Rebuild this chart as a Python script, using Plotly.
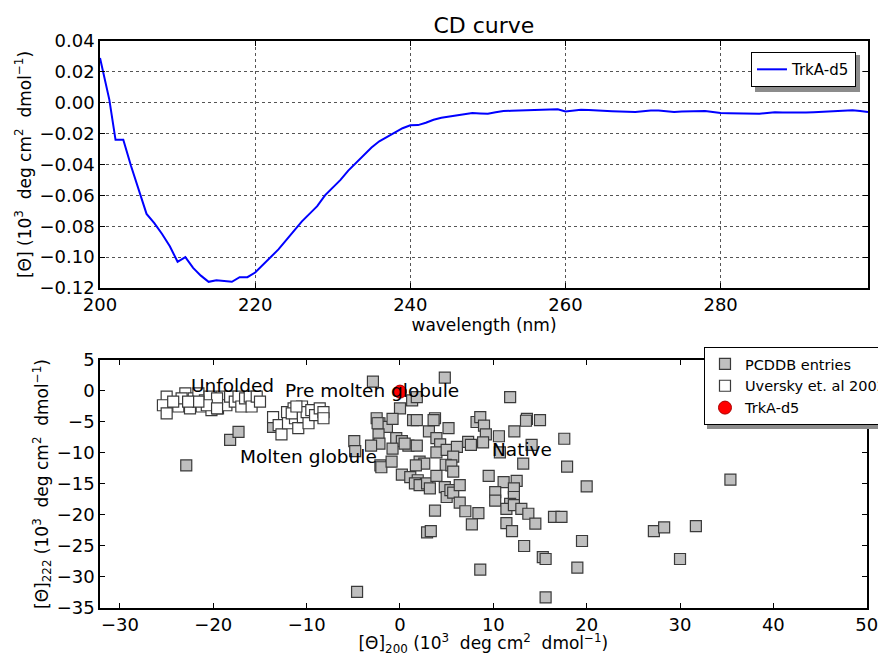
import plotly.graph_objects as go

# CD spectrum of TrkA-d5 (wavelength in nm, ellipticity)
wavelength = [
    200, 201.2, 202, 203, 204, 205, 206, 207, 208, 209, 210, 211, 212, 213, 214,
    215, 216, 217, 218, 219, 220, 221, 222, 223, 224, 225, 226, 227, 228, 229,
    230, 231, 232, 233, 234, 235, 236, 237, 238, 239, 240, 241, 242, 243, 244,
    245, 246, 247, 248, 249, 250, 251, 252, 253, 254, 255, 256, 257, 258, 259,
    260, 261, 262, 263, 264, 265, 266, 267, 268, 269, 270, 271, 272, 273, 274,
    275, 276, 277, 278, 279, 280, 281, 282, 283, 284, 285, 286, 287, 288, 289,
    290, 291, 292, 293, 294, 295, 296, 297, 298, 299,
]
theta = [
    0.029, 0.002, -0.024, -0.024, -0.041, -0.057, -0.072, -0.078, -0.085, -0.093,
    -0.103, -0.100, -0.107, -0.112, -0.116, -0.115, -0.1155, -0.116, -0.113, -0.113,
    -0.110, -0.105, -0.100, -0.095, -0.089, -0.083, -0.077, -0.072, -0.067, -0.060,
    -0.055, -0.050, -0.044, -0.039, -0.034, -0.029, -0.025, -0.022, -0.019, -0.0165,
    -0.0146, -0.0145, -0.013, -0.011, -0.0097, -0.009, -0.0082, -0.0075, -0.0067, -0.0069,
    -0.0071, -0.0062, -0.0054, -0.0052, -0.0050, -0.0050, -0.0049, -0.0046, -0.0043, -0.0043,
    -0.0056, -0.0050, -0.0045, -0.0047, -0.0051, -0.0054, -0.0055, -0.0057, -0.0059, -0.0060,
    -0.0055, -0.0050, -0.0050, -0.0056, -0.0060, -0.0057, -0.0056, -0.0055, -0.0054, -0.0060,
    -0.0067, -0.0068, -0.0068, -0.0069, -0.0071, -0.0071, -0.0066, -0.0062, -0.0063, -0.0064,
    -0.0064, -0.0064, -0.0062, -0.0060, -0.0058, -0.0056, -0.0053, -0.0049, -0.0053, -0.0060,
]

# PCDDB entries: theta200 vs theta222
pcddb_x = [
    -22.9, -18.2, -17.3, -13.6, -4.6,
    -2.9, 4.8, 1.3, 1.8, 11.8, 0.0,
    -2.5, -2.2, -1.4, -0.8, 1.4, 1.8, 3.75, 5.2, 3.1, -2.3, -2.2, -3.1, -4.9, -4.8,
    -0.4, 0.2, 0.9, 1.8, -0.8, 3.9, 4.3, 3.9, 5.0, 6.1, 5.7, 7.3, 7.6, 8.2, 8.6,
    9.0, 9.2, 8.9, 2.1, 2.6, 1.7, 4.9, 5.5, 5.7, -2.1, -2.0, -0.9, 0.2, 1.1, 1.9,
    1.6, 2.1, 2.9, 3.2, 3.9, 4.8, 5.0, 5.4, 5.7, 6.4, 6.4, 7.0, 8.4, 7.7, 3.75,
    2.9, 3.3, 8.6, 0.5, -2.4, 3.6,
    10.6, 12.25, 13.6, 13.5, 15.0, 17.6, 14.1, 10.7, 13.2, 17.9, 9.5, 11.1, 12.5,
    10.2, 10.2, 12.2, 12.2, 11.8, 11.4, 12.2, 13.0, 13.75, 14.5, 11.4, 12.0, 16.5,
    17.3, 20.0, 19.5, 13.3, 15.3, 15.6, 19.0, 15.6, 35.4, 27.2, 28.3, 31.7, 30.0,
]
pcddb_y = [
    -12.0, -7.9, -6.6, -5.8, -32.4,
    1.5, 2.15, -1.5, -1.0, -1.0, -2.8,
    -4.4, -5.2, -5.8, -4.5, -4.7, -4.7, -4.4, -6.0, -6.5, -7.0, -8.5, -8.8, -8.1, -9.7,
    -7.6, -8.1, -8.8, -8.8, -9.3, -7.6, -8.6, -9.9, -9.5, -9.0, -10.6, -8.2, -8.7, -5.0, -4.2,
    -5.6, -7.0, -8.3, -11.4, -11.7, -12.0, -11.9, -12.0, -13.0, -12.0, -12.3, -11.4, -13.5, -13.9, -14.4,
    -14.9, -15.2, -14.9, -15.7, -13.7, -15.5, -17.1, -16.0, -16.4, -15.2, -18.0, -19.4, -19.7, -21.5, -19.3,
    -22.8, -22.6, -28.8, -8.5, -5.2, -4.7,
    -7.3, -6.5, -4.5, -4.8, -4.7, -7.7, -8.7, -9.9, -11.7, -12.2, -13.7, -14.7, -14.5,
    -16.3, -17.7, -15.7, -17.1, -18.2, -19.0, -18.4, -19.0, -19.8, -21.4, -21.3, -22.6, -20.3,
    -20.3, -15.4, -24.2, -25.0, -26.8, -27.1, -28.5, -33.3, -14.3, -22.6, -22.0, -21.8, -27.1,
]

# Uversky et al. 2002: unfolded and pre-molten globule states
uversky_x = [
    -25.0, -25.4, -25.0, -23.75, -23.0, -22.5, -22.1, -21.6, -21.25, -20.9, -20.4, -20.2,
    -19.5, -19.1, -18.6, -18.2, -17.7, -17.3, -17.0, -16.6, -16.1, -15.9, -15.35, -15.0,
    -19.6, -20.7, -21.6, -23.4, -24.3, -22.7, -19.6,
    -13.6, -13.0, -12.7, -12.1, -12.0, -11.4, -11.25, -10.9, -10.5, -10.4, -10.0, -9.8,
    -9.5, -9.1, -8.6, -8.2, -8.2, -11.6, -11.1,
]
uversky_y = [
    -0.9, -2.3, -3.6, -2.5, -0.4, -2.8, -1.2, -0.4, -2.5, -1.5, -0.9, -3.1,
    -2.8, -0.9, -2.3, -0.9, -1.7, -0.9, -2.5, -1.2, -0.9, -2.5, -0.9, -1.7,
    -1.2, -2.3, -1.7, -1.2, -1.7, -1.7, -2.8,
    -4.2, -5.5, -7.0, -3.4, -5.2, -2.8, -4.4, -6.0, -2.5, -4.2, -3.4, -5.2,
    -3.1, -3.9, -2.8, -3.4, -4.4, -3.6, -2.5,
]

trka_x = [0.0]
trka_y = [-0.1]

labels = ["Unfolded", "Pre molten globule", "Molten globule", "Native"]
label_x = [-22.6, -12.5, -17.4, 9.6]
label_y = [0.96, 0.0, -10.5, -9.5]

FONT = "DejaVu Sans"
UNITS = "(10<sup>3</sup>  deg cm<sup>2</sup>  dmol<sup>−1</sup>)"

fig = go.Figure()

fig.add_trace(
    go.Scatter(
        x=wavelength,
        y=theta,
        mode="lines",
        name="TrkA-d5",
        line=dict(color="#0000ff", width=2),
        xaxis="x",
        yaxis="y",
        legend="legend",
    )
)

fig.add_trace(
    go.Scatter(
        x=pcddb_x,
        y=pcddb_y,
        mode="markers",
        name="PCDDB entries",
        marker=dict(symbol="square", size=11, color="#bfbfbf",
                    line=dict(color="#3a3a3a", width=1.2)),
        xaxis="x2",
        yaxis="y2",
        legend="legend2",
    )
)
fig.add_trace(
    go.Scatter(
        x=uversky_x,
        y=uversky_y,
        mode="markers",
        name="Uversky et. al 2002",
        marker=dict(symbol="square", size=11, color="#ffffff",
                    line=dict(color="#3a3a3a", width=1.2)),
        xaxis="x2",
        yaxis="y2",
        legend="legend2",
    )
)
fig.add_trace(
    go.Scatter(
        x=trka_x,
        y=trka_y,
        mode="markers",
        name="TrkA-d5",
        marker=dict(symbol="circle", size=13, color="#ff0000",
                    line=dict(color="#aa0000", width=1)),
        xaxis="x2",
        yaxis="y2",
        legend="legend2",
    )
)

for text, lx, ly in zip(labels, label_x, label_y):
    fig.add_annotation(
        x=lx, y=ly, xref="x2", yref="y2", text=text, showarrow=False,
        xanchor="left", yanchor="middle", font=dict(size=18.5, color="black"),
    )

# drop shadows behind the two legend boxes
fig.add_shape(type="rect", xref="paper", yref="paper", layer="above",
              x0=0.8508, x1=0.9704, y0=0.8703, y1=0.9275,
              fillcolor="#8c8c8c", line_width=0)
fig.add_shape(type="rect", xref="paper", yref="paper", layer="above",
              x0=0.7961, x1=1.02, y0=0.3503, y1=0.4722,
              fillcolor="#8c8c8c", line_width=0)

axis_common = dict(
    showline=True,
    linecolor="black",
    linewidth=1.5,
    mirror="ticks",
    ticks="inside",
    ticklen=5,
    tickcolor="black",
    zeroline=False,
    tickfont=dict(size=18, color="black"),
    title_font=dict(size=17, color="black"),
)

# the page body adds an 8px margin, so the figure is laid out 8px smaller
fig.update_layout(
    width=878,
    height=648,
    margin=dict(l=0, r=0, t=0, b=0, autoexpand=False),
    paper_bgcolor="white",
    plot_bgcolor="white",
    showlegend=True,
    font=dict(family=FONT, color="black"),
    title=dict(text="CD curve", x=0.542, xanchor="center", y=0.9738, yanchor="middle",
               font=dict(size=22, color="black")),
    xaxis=dict(
        domain=[0.1048, 0.9795],
        anchor="y",
        range=[200, 299],
        dtick=20,
        tick0=200,
        showgrid=True,
        gridcolor="#555555",
        griddash="dot",
        gridwidth=1,
        title=dict(text="wavelength (nm)", standoff=2),
        **axis_common,
    ),
    yaxis=dict(
        domain=[0.5679, 0.9491],
        anchor="x",
        range=[-0.12, 0.04],
        dtick=0.02,
        tickformat=".2f",
        showgrid=True,
        gridcolor="#555555",
        griddash="dot",
        gridwidth=1,
        title=dict(text="[Θ] " + UNITS, standoff=4),
        **axis_common,
    ),
    xaxis2=dict(
        domain=[0.1048, 0.978],
        anchor="y2",
        range=[-32.14, 50],
        dtick=10,
        tick0=0,
        showgrid=False,
        title=dict(text="[Θ]<sub>200</sub> " + UNITS, standoff=5),
        **axis_common,
    ),
    yaxis2=dict(
        domain=[0.0741, 0.4568],
        anchor="x2",
        range=[-35, 5],
        dtick=5,
        showgrid=False,
        title=dict(text="[Θ]<sub>222</sub> " + UNITS, standoff=4),
        **axis_common,
    ),
    legend=dict(
        x=0.9658, xanchor="right", y=0.932, yanchor="top",
        bgcolor="white", bordercolor="black", borderwidth=1,
        font=dict(size=15, color="black"),
    ),
    legend2=dict(
        x=0.7927, xanchor="left", y=0.4769, yanchor="top",
        bgcolor="white", bordercolor="black", borderwidth=1,
        font=dict(size=14.5, color="black"),
        tracegroupgap=0,
    ),
)

fig.write_html("out.html")
